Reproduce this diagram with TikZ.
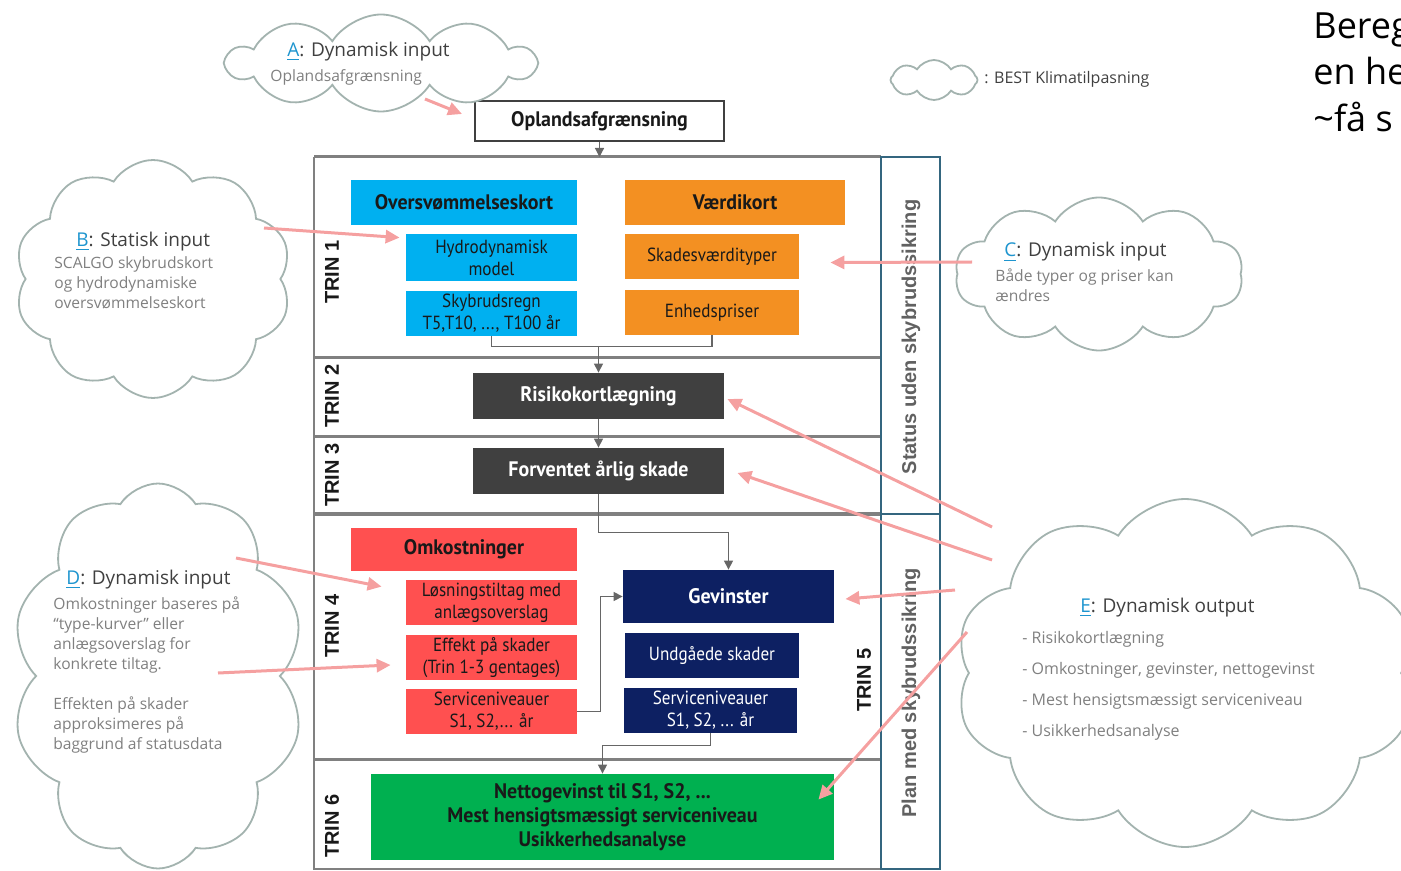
\documentclass[tikz,border=0pt]{standalone}
\usepackage{fontspec}
\setmainfont{Open Sans}
\setsansfont{Liberation Sans}
\newfontfamily\boksfont[FakeStretch=0.9]{PT Sans}
\newfontfamily\fedfont[FakeStretch=0.95]{PT Sans}
\usetikzlibrary{shapes.symbols,arrows.meta}

\definecolor{rammegraa}{HTML}{808080}
\definecolor{stregraa}{HTML}{666666}
\definecolor{petrol}{HTML}{34667F}
\definecolor{skylinje}{HTML}{A3B3AF}
\definecolor{pilrosa}{HTML}{F5A0A0}
\definecolor{linkblaa}{HTML}{1E95CF}
\definecolor{titelgraa}{HTML}{404040}
\definecolor{broedgraa}{HTML}{808080}
\definecolor{cyanboks}{HTML}{00B0F0}
\definecolor{orangeboks}{HTML}{F39022}
\definecolor{roedboks}{HTML}{FF5050}
\definecolor{moerkboks}{HTML}{404040}
\definecolor{navyboks}{HTML}{0D2062}
\definecolor{groenboks}{HTML}{00B050}

\tikzset{
  sky/.style={cloud, cloud puffs=10, cloud puff arc=115, cloud ignores aspect,
    draw=skylinje, line width=0.9pt, fill=white, inner sep=0pt},
  boks/.style={rectangle, inner sep=0pt, align=center, text=black!90,
    font=\boksfont\fontsize{9.5}{11}\selectfont},
  fedboks/.style={boks, font=\fedfont\bfseries\fontsize{10.5}{12}\selectfont},
  gang/.style={draw=stregraa, line width=0.6pt},
  gangpil/.style={gang, -{Triangle[length=4.5pt,width=4.5pt]}},
  pil/.style={draw=pilrosa, line width=1.5pt, -{Triangle[length=7pt,width=6.5pt]}},
  trin/.style={rotate=90, inner sep=0pt, text=black!90,
    font=\sffamily\bfseries\fontsize{10}{12}\selectfont},
  status/.style={rotate=90, inner sep=0pt, text=black!62,
    font=\sffamily\bfseries\fontsize{10}{12}\selectfont},
  titel/.style={anchor=west, inner sep=0pt, text=titelgraa,
    font=\fontsize{9.5}{11}\selectfont},
  broed/.style={anchor=north west, inner sep=0pt, align=left, text=broedgraa,
    font=\fontsize{7.8}{10}\selectfont},
}
\newcommand{\bogst}[1]{\textcolor{linkblaa}{\underline{#1}}}

\begin{document}
\begin{tikzpicture}[x=0.5pt,y=-0.5pt]
\useasboundingbox (0,0) rectangle (1401,871);
\clip (0,0) rectangle (1401,871);

% the frame with the six steps
\draw [rammegraa,line width=0.6pt] (314,157)--(314,869)--(881,869);
\foreach \y in {157,357,436,759}
  \draw [rammegraa,line width=1.5pt] (314,\y)--(881,\y);
\draw [rammegraa,line width=2pt] (314,514)--(881,514);
\draw [petrol,line width=1pt] (881,157) rectangle (940,514);
\draw [petrol,line width=1pt] (881,514) rectangle (940,869);
\node [status] (status) at (911,337) {Status uden skybrudssikring};
\node [status] (plan) at (911,693) {Plan med skybrudssikring};

\node [trin] (trin1) at (332,272) {TRIN 1};
\node [trin] (trin2) at (332,396) {TRIN 2};
\node [trin] (trin3) at (332,475) {TRIN 3};
\node [trin] (trin4) at (332,626) {TRIN 4};
\node [trin] (trin5) at (864,680) {TRIN 5};
\node [trin] (trin6) at (332,826) {TRIN 6};

% the boxes
\node [fedboks,draw=titelgraa,line width=1pt,fill=white,minimum width=124.5pt,minimum height=20pt]
  (oplands) at (599.5,121) {Oplandsafgrænsning};

\node [fedboks,fill=cyanboks,minimum width=113pt,minimum height=22.5pt] (overs) at (464,202.5) {Oversvømmelseskort};
\node [boks,fill=cyanboks,minimum width=85.5pt,minimum height=23.5pt] (hydro) at (491.5,257.5) {Hydrodynamisk\\model};
\node [boks,fill=cyanboks,minimum width=85.5pt,minimum height=22.5pt] (skybrud) at (491.5,313.5) {Skybrudsregn\\T5,T10, ..., T100 år};

\node [fedboks,fill=orangeboks,minimum width=110pt,minimum height=22.5pt] (vaerdi) at (735,202.5) {Værdikort};
\node [boks,fill=orangeboks,minimum width=87pt,minimum height=22.5pt] (skades) at (712,256.5) {Skadesværdityper};
\node [boks,fill=orangeboks,minimum width=87pt,minimum height=22.5pt] (enheds) at (712,312.5) {Enhedspriser};

\node [fedboks,fill=moerkboks,text=white,minimum width=125.5pt,minimum height=23pt] (risiko) at (598.5,396) {Risikokortlægning};
\node [fedboks,fill=moerkboks,text=white,minimum width=125.5pt,minimum height=23pt] (forv) at (598.5,471) {Forventet årlig skade};

\node [fedboks,fill=roedboks,minimum width=113pt,minimum height=21.5pt] (omk) at (464,549.5) {Omkostninger};
\node [boks,fill=roedboks,minimum width=85.5pt,minimum height=22.5pt] (loes) at (491.5,602.5) {Løsningstiltag med\\anlægsoverslag};
\node [boks,fill=roedboks,minimum width=85.5pt,minimum height=22.5pt] (effekt) at (491.5,657.5) {Effekt på skader\\(Trin 1-3 gentages)};
\node [boks,fill=roedboks,minimum width=85.5pt,minimum height=22.5pt] (servR) at (491.5,711.5) {Serviceniveauer\\S1, S2,... år};

\node [fedboks,fill=navyboks,text=white,minimum width=105.5pt,minimum height=26.5pt] (gev) at (728.5,596.5) {Gevinster};
\node [boks,fill=navyboks,text=white,minimum width=87pt,minimum height=22.5pt] (undg) at (712,655.5) {Undgåede skader};
\node [boks,fill=navyboks,text=white,minimum width=86.5pt,minimum height=22.5pt] (servN) at (710.5,710.5) {Serviceniveauer\\S1, S2, ... år};

\node [fedboks,fill=groenboks,minimum width=231.5pt,minimum height=43pt] (netto) at (602.5,817)
  {Nettogevinst til S1, S2, ...\\Mest hensigtsmæssigt serviceniveau\\Usikkerhedsanalyse};

% the gray connectors
\coordinate (rammetop) at (599.5,157);
\coordinate (samle) at (598.5,346);
\draw [gangpil] (oplands.south) -- (rammetop);
\draw [gang] (skybrud.south) -- ++(0,10) -| (enheds.south);
\draw [gangpil] (samle) -- (risiko.north);
\draw [gangpil] (risiko.south) -- (forv.north);
\draw [gangpil] (forv.south) -- ++(0,38) -| (gev.north);
\draw [gangpil] (servR.east) -- ++(23,0) |- (gev.west);
\draw [gangpil] (servN.south) -- ++(0,12) -| (netto.north);

% the clouds
\node [sky,minimum width=153.5pt,minimum height=48.5pt] (skyA) at (381,63) {};
\node [sky,minimum width=138.5pt,minimum height=119pt] (skyB) at (153,279) {};
\node [sky,minimum width=144pt,minimum height=76.5pt] (skyC) at (1099,274) {};
\node [sky,minimum width=146.5pt,minimum height=192.5pt] (skyD) at (158,676) {};
\node [sky,minimum width=230pt,minimum height=174pt] (skyE) at (1185,673) {};
\node [sky,cloud puffs=8,minimum width=43.5pt,minimum height=20pt] (skyBEST) at (934,80) {};

\node [titel] (tA) at (287,52) {\bogst{A}: Dynamisk input};
\node [broed] (bA) at (270,69) {Oplandsafgrænsning};

\node [titel] (tB) at (76,242) {\bogst{B}: Statisk input};
\node [broed] (bB) at (54,256) {SCALGO skybrudskort\\og hydrodynamiske\\oversvømmelseskort};

\node [titel] (tC) at (1004,252) {\bogst{C}: Dynamisk input};
\node [broed] (bC) at (995,268) {Både typer og priser kan\\ændres};

\node [titel] (tD) at (66,580) {\bogst{D}: Dynamisk input};
\node [broed] (bD) at (53,596) {Omkostninger baseres på\\“type-kurver” eller\\anlægsoverslag for\\konkrete tiltag.\\[10pt]Effekten på skader\\approksimeres på\\baggrund af statusdata};

\node [titel] (tE) at (1080,608) {\bogst{E}: Dynamisk output};
\node [broed,font=\fontsize{8}{15.5}\selectfont] (bE) at (1022,631)
  {- Risikokortlægning\\- Omkostninger, gevinster, nettogevinst\\- Mest hensigtsmæssigt serviceniveau\\- Usikkerhedsanalyse};

\node [anchor=west,inner sep=0pt,text=titelgraa,font=\fontsize{8}{10}\selectfont] (best) at (984,79) {: BEST Klimatilpasning};

\node [anchor=west,inner sep=0pt,align=left,text=black,font=\fontsize{18}{23.25}\selectfont] (bereg) at (1313,72)
  {Bereg\\en he\\\textasciitilde få s};

% the pink pointers
\coordinate (sA) at (425,99);
\coordinate (sB) at (264,228);
\coordinate (sC) at (972,262);
\coordinate (sD1) at (236,558);
\coordinate (sD2) at (218,673);
\coordinate (sE1) at (992,527);
\coordinate (sE2) at (992,560);
\coordinate (sE3) at (955,590);
\coordinate (sE4) at (967,632);
\draw [pil] (sA) -- ([xshift=-6pt,yshift=-7pt]oplands.north west);
\draw [pil] (sB) -- ([xshift=-3pt,yshift=-2pt]hydro.north west);
\draw [pil] (sC) -- ([xshift=15.5pt,yshift=-3pt]skades.east);
\draw [pil] (sD1) -- ([xshift=-12pt,yshift=-3.5pt]loes.north west);
\draw [pil] (sD2) -- ([xshift=-7.5pt,yshift=-3.75pt]effekt.west);
\draw [pil] (sE1) -- ([xshift=1.5pt,yshift=-1.5pt]risiko.east);
\draw [pil] (sE2) -- ([xshift=6.5pt,yshift=-1pt]forv.east);
\draw [pil] (sE3) -- ([xshift=5.5pt,yshift=-1.25pt]gev.east);
\draw [pil] (sE4) -- ([xshift=-8pt,yshift=-13pt]netto.north east);

\end{tikzpicture}
\end{document}
